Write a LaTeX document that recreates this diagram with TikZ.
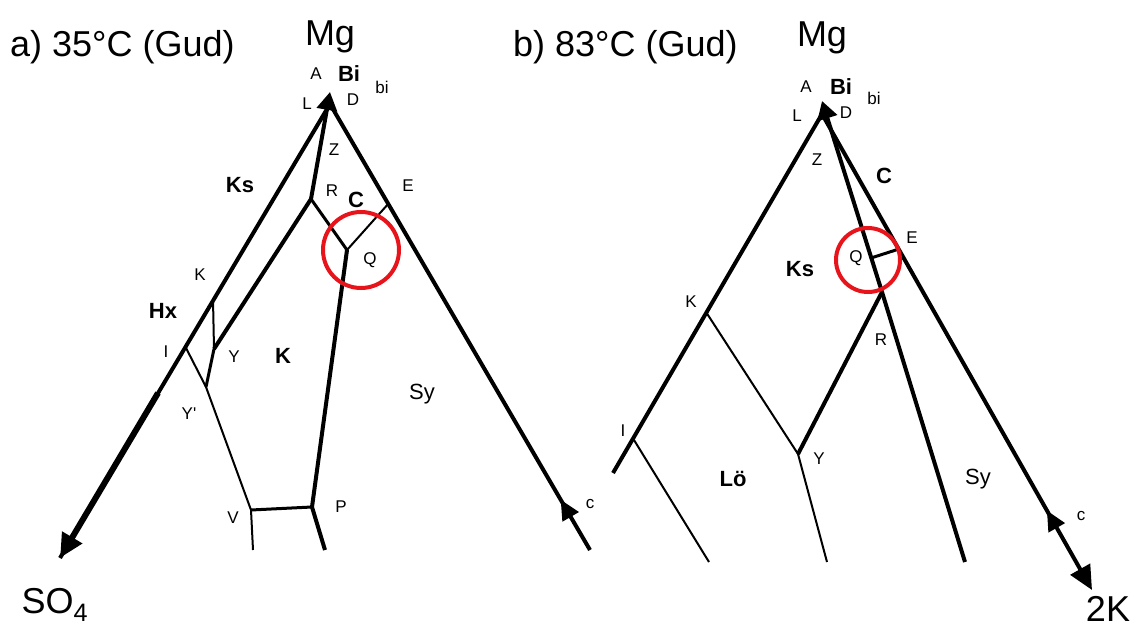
\documentclass[tikz,border=0pt]{standalone}
\usepackage{fontspec}
\setmainfont{Liberation Sans}
\usetikzlibrary{arrows.meta, decorations.markings}
\definecolor{ringred}{HTML}{E8141B}
\tikzset{
    heavy/.style={line width=4pt, line join=round},
    medium/.style={line width=3pt, line join=round},
    light/.style={line width=2pt, line join=round},
    ring/.style={circle, draw=ringred, line width=4pt, inner sep=0pt},
    lbl/.style={inner sep=0pt, font=\fontsize{17}{17}\selectfont},
    blbl/.style={inner sep=0pt, font=\fontsize{22}{22}\selectfont\bfseries},
    rlbl/.style={inner sep=0pt, font=\fontsize{22}{22}\selectfont},
    bigtxt/.style={inner sep=0pt, font=\fontsize{36}{36}\selectfont},
    tiptop/.style={-{Triangle[length=18pt, width=20pt]}},
    tipend/.style={-{Triangle[length=24pt, width=22pt]}},
    midtip/.style={postaction={decorate}, decoration={markings,
        mark=at position #1 with {\arrowreversed{Triangle[length=20pt, width=18pt]}}}}
}
\begin{document}
\begin{tikzpicture}[x=1pt, y=-1pt]
    \useasboundingbox (0,0) rectangle (1137,631);

    % a) 35 C
    \coordinate (aA) at (330,104);
    \coordinate (aTip) at (330,92);
    \coordinate (aR) at (311,199);
    \coordinate (aQ) at (347,250);
    \coordinate (aE) at (389,203);
    \coordinate (aK) at (213,299);
    \coordinate (aI) at (185,346);
    \coordinate (aY) at (214,349);
    \coordinate (aYp) at (206,387);
    \coordinate (aV) at (251,510);
    \coordinate (aP) at (312,507);
    \coordinate (aThick) at (158,393);
    \coordinate (aSO) at (60,558);
    \coordinate (aEnd) at (590,550);
    \coordinate (aVend) at (253,550);
    \coordinate (aPend) at (325,550);

    \draw[heavy] (aA) -- (aSO);
    \draw[line width=6pt, tipend] (aThick) -- (aSO);
    \draw[heavy, midtip=0.887] (aA) -- (aEnd);
    \draw[heavy, tiptop] (aR) -- (aTip);
    \draw[heavy] (aR) -- (aY);
    \draw[medium] (aR) -- (aQ);
    \draw[light] (aQ) -- (aE);
    \draw[heavy] (aQ) -- (aP) -- (aPend);
    \draw[light] (aK) -- (aY);
    \draw[medium] (aY) -- (aYp);
    \draw[light] (aI) -- (aYp) -- (aV) -- (aVend);
    \draw[medium] (aV) -- (aP);
    \node[ring, minimum size=76pt] (aring) at (361,250) {};

    \node[bigtxt, anchor=west] (atitle) at (10,47) {a) 35°C (Gud)};
    \node[bigtxt] (aMg) at (330,37) {Mg};
    \node[lbl] (lA) at (316,74) {A};
    \node[blbl] (lBi) at (349,74) {Bi};
    \node[lbl] (lbi) at (382,87) {bi};
    \node[lbl] (lL) at (307,104) {L};
    \node[lbl] (lD) at (353,100) {D};
    \node[lbl] (lZ) at (334,150) {Z};
    \node[blbl] (lKs) at (240,185) {Ks};
    \node[lbl] (lR) at (332,191) {R};
    \node[blbl] (lC) at (356,200) {C};
    \node[lbl] (lE) at (408,186) {E};
    \node[lbl] (lQ) at (370,260) {Q};
    \node[lbl] (lK) at (200,275) {K};
    \node[blbl] (lHx) at (163,311) {Hx};
    \node[lbl] (lI) at (166,352) {I};
    \node[lbl] (lY) at (234,357) {Y};
    \node[blbl] (lKK) at (283,356) {K};
    \node[rlbl] (lSy) at (422,394) {Sy};
    \node[lbl] (lYp) at (189,414) {Y\textquotesingle};
    \node[lbl] (lV) at (233,518) {V};
    \node[lbl] (lP) at (341,507) {P};
    \node[lbl] (lc) at (590,504) {c};
    \node[bigtxt] (lSO) at (55,605) {SO\textsubscript{4}};

    % b) 83 C
    \coordinate (bA) at (822,114);
    \coordinate (bTip) at (822,101);
    \coordinate (bK) at (706,312);
    \coordinate (bI) at (634,440);
    \coordinate (bLeft) at (613,473);
    \coordinate (bQ) at (871,258);
    \coordinate (bE) at (899,249);
    \coordinate (bR) at (882,292);
    \coordinate (bY) at (798,454);
    \coordinate (bYend) at (827,562);
    \coordinate (bIend) at (709,562);
    \coordinate (bMid) at (965,562);
    \coordinate (bEnd) at (1092,590);

    \draw[heavy] (bA) -- (bLeft);
    \draw[heavy, midtip=0.833, tipend] (bA) -- (bEnd);
    \draw[heavy, tiptop] (bMid) -- (bR) -- (bTip);
    \draw[medium] (bQ) -- (bE);
    \draw[heavy] (bR) -- (bY);
    \draw[light] (bK) -- (bY) -- (bYend);
    \draw[light] (bI) -- (bIend);
    \node[ring, minimum size=64pt] (bring) at (868,260) {};

    \node[bigtxt, anchor=west] (btitle) at (513,47) {b) 83°C (Gud)};
    \node[bigtxt] (bMg) at (822,38) {Mg};
    \node[lbl] (mA) at (806,87) {A};
    \node[blbl] (mBi) at (841,87) {Bi};
    \node[lbl] (mbi) at (874,98) {bi};
    \node[lbl] (mL) at (797,116) {L};
    \node[lbl] (mD) at (846,113) {D};
    \node[lbl] (mZ) at (817,160) {Z};
    \node[blbl] (mC) at (884,176) {C};
    \node[lbl] (mE) at (912,238) {E};
    \node[blbl] (mKs) at (800,269) {Ks};
    \node[lbl] (mQ) at (856,258) {Q};
    \node[lbl] (mK) at (691,302) {K};
    \node[lbl] (mR) at (881,340) {R};
    \node[lbl] (mI) at (623,431) {I};
    \node[lbl] (mY) at (819,459) {Y};
    \node[blbl] (mLo) at (733,479) {Lö};
    \node[rlbl] (mSy) at (978,479) {Sy};
    \node[lbl] (mc) at (1081,516) {c};
    \node[bigtxt] (m2K) at (1108,609) {2K};
\end{tikzpicture}
\end{document}
